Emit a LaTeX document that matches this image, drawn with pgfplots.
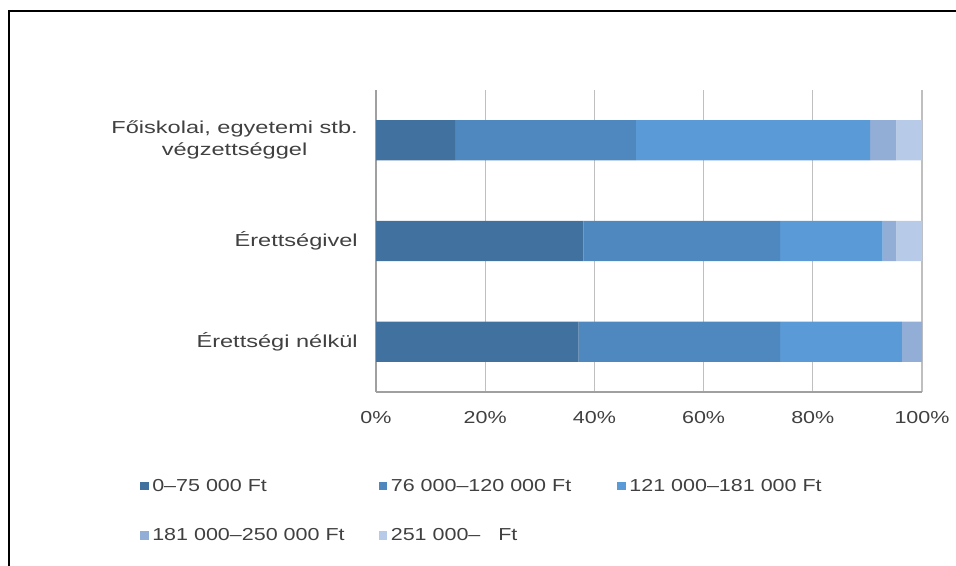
\documentclass[border=0pt]{standalone}
\usepackage{fontspec}
\setmainfont{Liberation Sans}[FakeStretch=1.36]
\newfontfamily\legfont{Liberation Sans}[FakeStretch=1.24]
\usepackage{pgfplots}
\pgfplotsset{compat=1.18}
\definecolor{cA}{HTML}{41729F}
\definecolor{cB}{HTML}{4F88BE}
\definecolor{cC}{HTML}{5A9AD6}
\definecolor{cD}{HTML}{93AED6}
\definecolor{cE}{HTML}{B7CBE8}
\definecolor{txt}{HTML}{404040}
\definecolor{gridc}{HTML}{BFBFBF}
\definecolor{axc}{HTML}{A0A0A0}
\begin{document}
\begin{tikzpicture}
\useasboundingbox (0,0) rectangle (717pt,-424.5pt);
\draw[line width=1.6pt] (6.75pt,-424.5pt) -- (6.75pt,-8.25pt) -- (717pt,-8.25pt);
\begin{axis}[
  at={(282pt,-294pt)}, anchor=south west,
  scale only axis, width=409.5pt, height=226.5pt,
  xbar stacked, bar width=0.4,
  xmin=0, xmax=100, ymin=-0.5, ymax=2.5, y dir=reverse,
  axis x line*=bottom, axis y line*=left,
  axis line style={axc, line width=0.8pt},
  xmajorgrids, grid style={gridc, line width=0.8pt},
  major tick length=0pt,
  xtick={0,20,40,60,80,100},
  xticklabels={0\%,20\%,40\%,60\%,80\%,100\%},
  ytick={0,1,2},
  yticklabels={{Főiskolai, egyetemi stb.\\végzettséggel},{Érettségivel},{Érettségi nélkül}},
  yticklabel style={font=\fontsize{13}{16.5}\selectfont, text=txt, align=center, inner sep=0pt, xshift=-13.5pt},
  xticklabel style={font=\legfont\fontsize{13}{16}\selectfont, text=txt, anchor=center, inner sep=0pt, yshift=-19.5pt},
  /pgf/number format/assume math mode=true,
  legend columns=3,
  legend style={at={(-0.4322,-0.2874)}, anchor=north west, draw=none, fill=none,
    inner sep=0pt, row sep=26.7pt, font=\legfont\fontsize{13}{15}\selectfont, text=txt,
    nodes={inner sep=0pt}},
  legend cell align=left,
  legend image code/.code={\fill[#1] (0pt,-3.25pt) rectangle (6.5pt,3.25pt); \path (9pt,0pt);},
]
\addplot[fill=cA, draw=none] coordinates {(14.5,0) (38.0,1) (37.1,2)};
\addlegendentry{\makebox[169.9pt][l]{0–75 000 Ft}}
\addplot[fill=cB, draw=none] coordinates {(33.1,0) (36.0,1) (36.9,2)};
\addlegendentry{\makebox[169.9pt][l]{76 000–120 000 Ft}}
\addplot[fill=cC, draw=none] coordinates {(42.9,0) (18.8,1) (22.3,2)};
\addlegendentry{121 000–181 000 Ft}
\addplot[fill=cD, draw=none] coordinates {(4.8,0) (2.5,1) (3.7,2)};
\addlegendentry{\makebox[169.9pt][l]{181 000–250 000 Ft}}
\addplot[fill=cE, draw=none] coordinates {(4.7,0) (4.7,1) (0,2)};
\addlegendentry{251 000–\ \ \ Ft}
\end{axis}
\end{tikzpicture}
\end{document}
